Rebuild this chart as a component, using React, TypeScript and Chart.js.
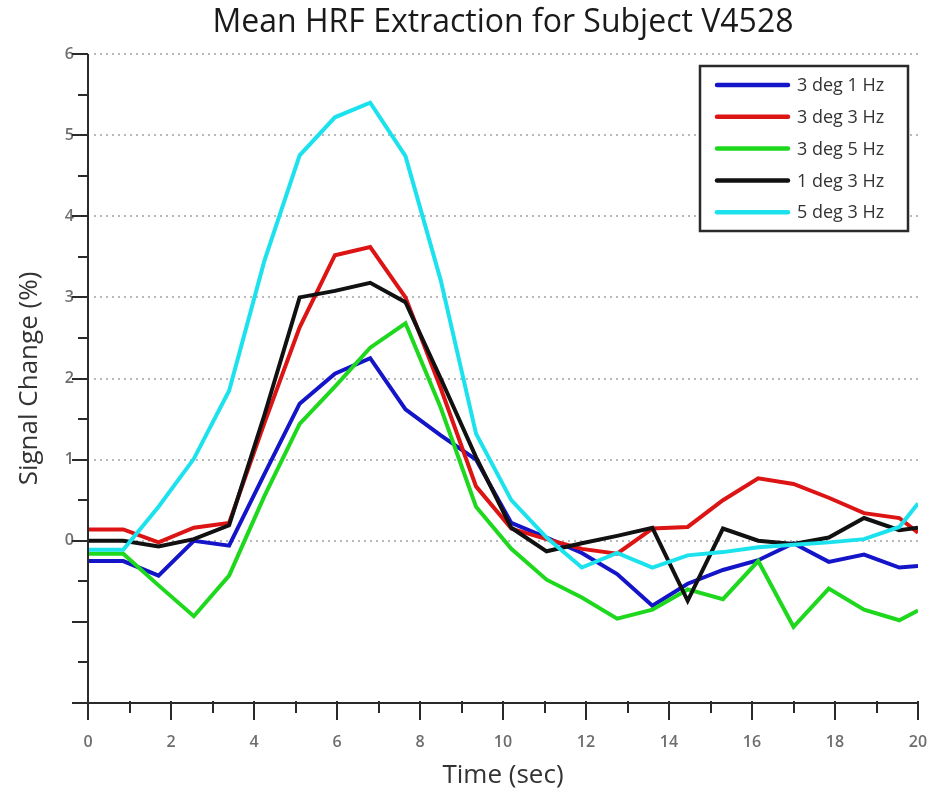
import React, { useEffect, useRef } from "react";
import { Chart, registerables } from "chart.js";

Chart.register(...registerables);

// ---- data ----
const times = [0, 0.85, 1.7, 2.55, 3.4, 4.25, 5.1, 5.95, 6.8, 7.65, 8.5, 9.35, 10.2, 11.05, 11.9, 12.75, 13.6, 14.45, 15.3, 16.15, 17.0, 17.85, 18.7, 19.55, 20];

const seriesLabels = ["3 deg 1 Hz", "3 deg 3 Hz", "3 deg 5 Hz", "1 deg 3 Hz", "5 deg 3 Hz"];

const deg3Hz1 = [-0.25, -0.25, -0.43, 0.0, -0.06, 0.82, 1.69, 2.06, 2.25, 1.62, 1.3, 1.0, 0.22, 0.04, -0.15, -0.41, -0.8, -0.53, -0.36, -0.24, -0.03, -0.26, -0.17, -0.33, -0.31];
const deg3Hz3 = [0.14, 0.14, -0.02, 0.16, 0.22, 1.45, 2.63, 3.52, 3.62, 3.0, 1.88, 0.67, 0.15, 0.02, -0.1, -0.16, 0.15, 0.17, 0.5, 0.77, 0.7, 0.53, 0.34, 0.28, 0.1];
const deg3Hz5 = [-0.16, -0.16, -0.55, -0.93, -0.43, 0.55, 1.44, 1.9, 2.38, 2.68, 1.64, 0.42, -0.1, -0.48, -0.7, -0.96, -0.85, -0.6, -0.72, -0.25, -1.06, -0.59, -0.85, -0.98, -0.86];
const deg1Hz3 = [0.0, 0.0, -0.07, 0.02, 0.19, 1.55, 3.0, 3.08, 3.18, 2.94, 2.0, 1.03, 0.16, -0.13, -0.03, 0.06, 0.16, -0.74, 0.15, 0.0, -0.04, 0.04, 0.28, 0.13, 0.16];
const deg5Hz3 = [-0.11, -0.11, 0.42, 1.01, 1.85, 3.45, 4.75, 5.22, 5.4, 4.74, 3.21, 1.32, 0.5, 0.04, -0.33, -0.15, -0.33, -0.18, -0.14, -0.08, -0.05, -0.02, 0.02, 0.17, 0.46];

const seriesValues = [deg3Hz1, deg3Hz3, deg3Hz5, deg1Hz3, deg5Hz3];
const seriesColors = ["#1414c8", "#dc1414", "#1ed81e", "#111111", "#1ce2ee"];
const seriesOrder = [4, 3, 2, 1, 0];

const yGridValues = [0, 1, 2, 3, 4, 5, 6];
const yMin = -2;
const yMax = 6;
const xMin = 0;
const xMax = 20;

const TICK_FONT = { family: "Open Sans", size: 16, weight: "600" as const };
const AXIS_COLOR = "#2a2a2a";

const hrfPlugin = {
  id: "hrfPlugin",
  beforeDatasetsDraw(chart: any) {
    const { ctx, chartArea, scales } = chart;
    const y = scales.y;
    ctx.save();
    ctx.strokeStyle = "#b8b8b8";
    ctx.lineWidth = 2;
    ctx.setLineDash([2, 4]);
    for (const v of yGridValues) {
      const py = Math.round(y.getPixelForValue(v));
      ctx.beginPath();
      ctx.moveTo(chartArea.left + 6, py);
      ctx.lineTo(chartArea.right, py);
      ctx.stroke();
    }
    ctx.restore();
  },
  afterDatasetsDraw(chart: any) {
    const { ctx, chartArea, scales } = chart;
    const x = scales.x;
    const y = scales.y;
    ctx.save();
    ctx.strokeStyle = AXIS_COLOR;
    ctx.lineWidth = 2;
    ctx.setLineDash([]);
    ctx.beginPath();
    ctx.moveTo(chartArea.left, chartArea.top);
    ctx.lineTo(chartArea.left, chartArea.bottom);
    ctx.lineTo(chartArea.right, chartArea.bottom);
    ctx.stroke();
    for (let k = 0; k <= (yMax - yMin) * 2; k++) {
      const v = yMin + k / 2;
      const py = Math.round(y.getPixelForValue(v));
      const len = k % 2 === 0 ? 16 : 10;
      ctx.beginPath();
      ctx.moveTo(chartArea.left - len, py);
      ctx.lineTo(chartArea.left, py);
      ctx.stroke();
    }
    for (let v = xMin; v <= xMax; v++) {
      const px = Math.round(x.getPixelForValue(v));
      const len = v % 2 === 0 ? 17 : 10;
      ctx.beginPath();
      ctx.moveTo(px, chartArea.bottom - 2);
      ctx.lineTo(px, chartArea.bottom + len);
      ctx.stroke();
    }
    ctx.restore();
  },
  afterDraw(chart: any) {
    const { ctx, chartArea } = chart;
    const boxW = 208;
    const boxH = 165;
    const bx = chartArea.right - 10 - boxW;
    const by = chartArea.top + 12;
    ctx.save();
    ctx.fillStyle = "#ffffff";
    ctx.fillRect(bx, by, boxW, boxH);
    ctx.strokeStyle = "#2a2a2a";
    ctx.lineWidth = 2.5;
    ctx.strokeRect(bx, by, boxW, boxH);
    const datasets = chart.data.datasets;
    ctx.font = "18px 'Open Sans'";
    ctx.textBaseline = "middle";
    ctx.textAlign = "left";
    datasets.forEach((ds: any, i: number) => {
      const ry = by + 19 + i * 31.8;
      ctx.strokeStyle = ds.borderColor;
      ctx.lineWidth = 4.5;
      ctx.lineCap = "round";
      ctx.beginPath();
      ctx.moveTo(bx + 17, ry);
      ctx.lineTo(bx + 88, ry);
      ctx.stroke();
      ctx.fillStyle = "#333333";
      ctx.fillText(ds.label, bx + 97, ry + 1);
    });
    ctx.restore();
  },
};

export default function App() {
  const canvasRef = useRef<HTMLCanvasElement | null>(null);

  useEffect(() => {
    document.body.style.margin = "0";
    document.documentElement.style.overflow = "hidden";
    const canvas = canvasRef.current;
    if (!canvas) return;
    const chart = new Chart(canvas, {
      type: "line",
      data: {
        datasets: seriesLabels.map((label, i) => ({
          label,
          data: times.map((t, j) => ({ x: t, y: seriesValues[i][j] })),
          borderColor: seriesColors[i],
          backgroundColor: seriesColors[i],
          borderWidth: 4,
          pointRadius: 0,
          tension: 0,
          fill: false,
          order: seriesOrder[i],
        })),
      },
      options: {
        responsive: false,
        animation: false,
        devicePixelRatio: 1,
        layout: { padding: { left: 0, right: 13, top: 0, bottom: 0 } },
        plugins: {
          legend: { display: false },
          tooltip: { enabled: false },
          title: {
            display: true,
            fullSize: false,
            text: "Mean HRF Extraction for Subject V4528",
            color: "#1a1a1a",
            font: { family: "Open Sans", size: 32, weight: "normal" },
            padding: { top: 4, bottom: 11.6 },
          },
        },
        scales: {
          x: {
            type: "linear",
            min: xMin,
            max: xMax,
            grid: { display: false, drawTicks: true, tickLength: 27 },
            border: { display: false },
            ticks: {
              stepSize: 2,
              padding: 3,
              color: "#6e6e6e",
              font: TICK_FONT,
              maxRotation: 0,
              autoSkip: false,
            },
            title: {
              display: true,
              text: "Time (sec)",
              color: "#333333",
              font: { family: "Open Sans", size: 26 },
              padding: { top: 0, bottom: 5 },
            },
            afterFit: (s: any) => {
              s.height = 93;
            },
          },
          y: {
            type: "linear",
            min: yMin,
            max: yMax,
            grid: { display: false, drawTicks: true, tickLength: 11 },
            border: { display: false },
            ticks: {
              stepSize: 1,
              padding: 3,
              color: "#6e6e6e",
              font: TICK_FONT,
              callback: (v: any) => (Number(v) >= 0 ? String(v) : ""),
            },
            title: {
              display: true,
              text: "Signal Change (%)",
              color: "#333333",
              font: { family: "Open Sans", size: 26 },
              padding: { top: 14, bottom: 0 },
            },
            afterFit: (s: any) => {
              s.width = 88;
            },
          },
        },
      },
      plugins: [hrfPlugin],
    });
    return () => chart.destroy();
  }, []);

  return (
    <canvas
      ref={canvasRef}
      width={931}
      height={796}
      style={{ display: "block", width: 931, height: 796 }}
    />
  );
}
